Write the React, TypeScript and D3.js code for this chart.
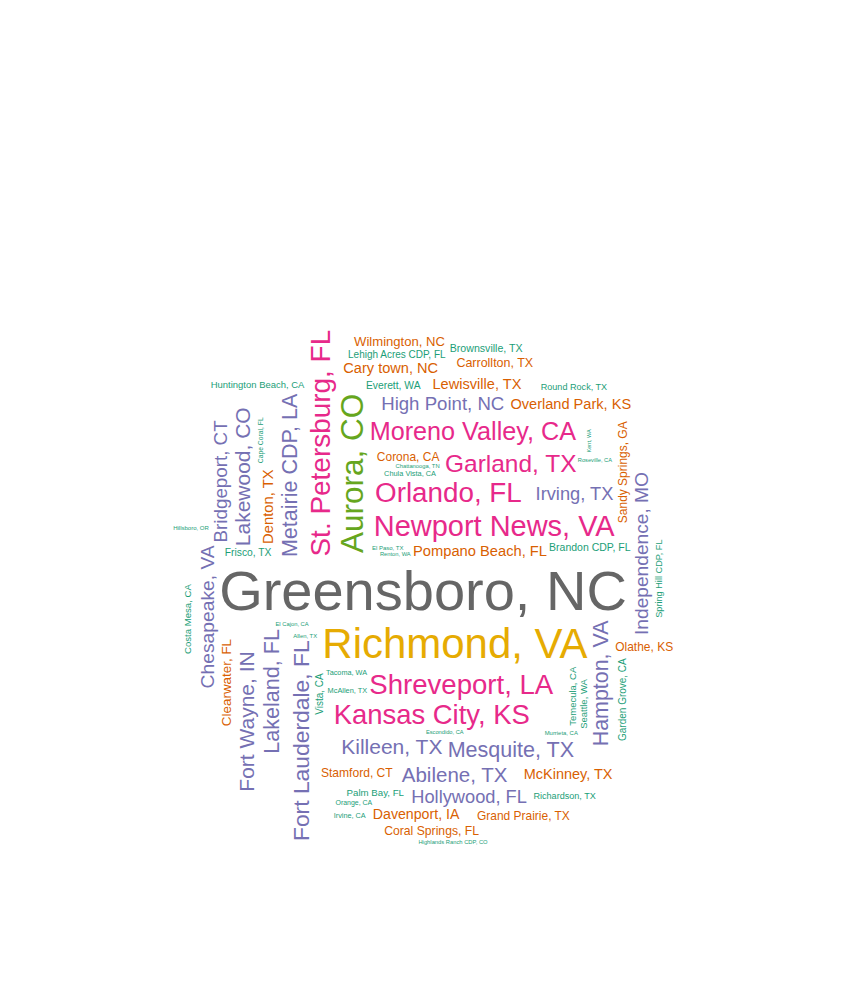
import React, { useMemo } from 'react';
import * as d3 from 'd3';

const cities = [
  'Greensboro, NC', 'Richmond, VA', 'Aurora, CO', 'Newport News, VA', 'St. Petersburg, FL',
  'Orlando, FL', 'Shreveport, LA', 'Kansas City, KS', 'Moreno Valley, CA', 'Garland, TX',
  'Fort Lauderdale, FL', 'Lakeland, FL', 'Metairie CDP, LA', 'Mesquite, TX', 'Hampton, VA',
  'Killeen, TX', 'Fort Wayne, IN', 'Lakewood, CO', 'Abilene, TX', 'Chesapeake, VA',
  'Independence, MO', 'Bridgeport, CT', 'High Point, NC', 'Irving, TX', 'Hollywood, FL',
  'Denton, TX', 'Pompano Beach, FL', 'Cary town, NC', 'Lewisville, TX', 'Overland Park, KS',
  'McKinney, TX', 'Davenport, IA', 'Clearwater, FL', 'Wilmington, NC', 'Carrollton, TX',
  'Coral Springs, FL', 'Stamford, CT', 'Grand Prairie, TX', 'Olathe, KS', 'Corona, CA',
  'Sandy Springs, GA', 'Brownsville, TX', 'Brandon CDP, FL', 'Frisco, TX', 'Everett, WA',
  'Vista, CA', 'Garden Grove, CA', 'Lehigh Acres CDP, FL', 'Palm Bay, FL', 'Costa Mesa, CA',
  'Huntington Beach, CA', 'Seattle, WA', 'Temecula, CA', 'Spring Hill CDP, FL', 'Round Rock, TX',
  'Richardson, TX', 'Chula Vista, CA', 'McAllen, TX', 'Tacoma, WA', 'Irvine, CA',
  'Orange, CA', 'Cape Coral, FL', 'Hillsboro, OR', 'El Paso, TX', 'Murrieta, CA',
  'Allen, TX', 'Chattanooga, TN', 'El Cajon, CA', 'Highlands Ranch CDP, CO', 'Renton, WA',
  'Roseville, CA', 'Escondido, CA', 'Kent, WA',
];

const counts = [
  100, 72.5, 52, 47, 45,
  44.7, 44.3, 44, 39.6, 38.2,
  35, 32.5, 32.4, 32.4, 32.2,
  31.4, 31.4, 31.4, 30.4, 28,
  27.8, 27, 26.7, 26, 26,
  19.2, 19, 18.8, 18.8, 18.8,
  18.6, 18, 16.5, 15.9, 14.7,
  14.1, 13.9, 13.7, 13.7, 13.7,
  13.7, 11, 10.8, 10.4, 10.4,
  9.8, 9.8, 9.8, 9.2, 9,
  8.8, 8.8, 8.8, 8.2, 8,
  8, 4.7, 4.7, 4.5, 4.5,
  3.9, 3.5, 2, 2, 1.8,
  1.8, 1.6, 1.6, 1.6, 1.5,
  1.4, 1.4, 1,
];

// words written bottom-to-top
const vertical = [
  'Aurora, CO', 'St. Petersburg, FL', 'Fort Lauderdale, FL', 'Lakeland, FL', 'Metairie CDP, LA',
  'Hampton, VA', 'Fort Wayne, IN', 'Lakewood, CO', 'Chesapeake, VA', 'Independence, MO',
  'Bridgeport, CT', 'Denton, TX', 'Clearwater, FL', 'Sandy Springs, GA', 'Vista, CA',
  'Garden Grove, CA', 'Costa Mesa, CA', 'Seattle, WA', 'Temecula, CA', 'Spring Hill CDP, FL',
  'Cape Coral, FL', 'Kent, WA',
];

const WIDTH = 846;
const HEIGHT = 992;
const CX = 423;
const CY = 590;
const UNIT = 700;
const FONT = '"Liberation Sans", Arial, sans-serif';

interface Placed {
  text: string;
  x: number;
  y: number;
  size: number;
  color: string;
  rotate: boolean;
}

function layoutCloud(): Placed[] {
  const maxCount = d3.max(counts) as number;
  const size = d3.scaleLinear().domain([0, maxCount]).range([5, 56]);
  const colour = (v: number) => d3.schemeDark2[Math.max(0, Math.ceil((8 * v) / maxCount) - 1)];
  const ctx = document.createElement('canvas').getContext('2d')!;
  const order = d3.range(cities.length).sort((a, b) => counts[b] - counts[a]);

  const boxes: { x0: number; y0: number; x1: number; y1: number }[] = [];
  const out: Placed[] = [];
  const rStep = (UNIT * 0.05 * 0.1) / (2 * Math.PI);

  order.forEach((i, k) => {
    const s = size(counts[i]);
    ctx.font = `${s}px ${FONT}`;
    let w = ctx.measureText(cities[i]).width + 1;
    let h = s * 1.06;
    const rot = vertical.includes(cities[i]);
    if (rot) [w, h] = [h, w];

    let theta = k * 2.399963;
    let r = 0;
    for (let step = 0; step < 40000; step++) {
      const x = CX + r * Math.cos(theta);
      const y = CY + r * Math.sin(theta);
      const b = { x0: x - w / 2, y0: y - h / 2, x1: x + w / 2, y1: y + h / 2 };
      const inside = b.x0 > 0 && b.y0 > 0 && b.x1 < WIDTH && b.y1 < HEIGHT;
      if (inside && !boxes.some(o => b.x0 < o.x1 && b.x1 > o.x0 && b.y0 < o.y1 && b.y1 > o.y0)) {
        boxes.push(b);
        out.push({ text: cities[i], x, y, size: s, color: colour(counts[i]), rotate: rot });
        break;
      }
      theta += 0.1;
      r += rStep;
    }
  });
  return out;
}

export default function App() {
  const words = useMemo(layoutCloud, []);
  return (
    <svg
      width={WIDTH}
      height={HEIGHT}
      style={{ position: 'absolute', left: 0, top: 0, background: '#fff' }}
      fontFamily={FONT}
    >
      {words.map(d => (
        <text
          key={d.text}
          x={d.x}
          y={d.y + d.size * 0.35}
          fontSize={d.size}
          fill={d.color}
          textAnchor="middle"
          transform={d.rotate ? `rotate(-90 ${d.x} ${d.y})` : undefined}
        >
          {d.text}
        </text>
      ))}
    </svg>
  );
}
